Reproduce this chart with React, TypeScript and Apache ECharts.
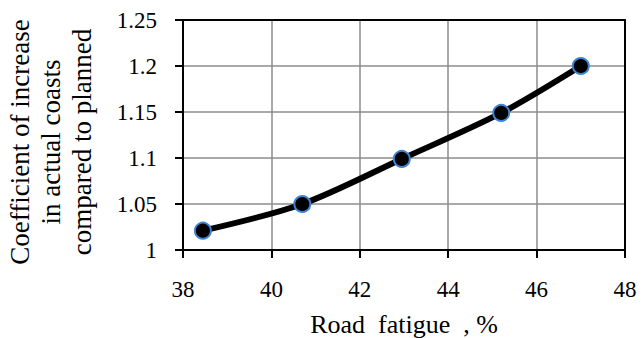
import React, { useEffect, useRef } from "react";
import * as echarts from "echarts";

const roadFatigue = [38.45, 40.7, 42.95, 45.2, 47.0];
const coefficient = [1.021, 1.05, 1.099, 1.149, 1.2];
const xTitle = "Road  fatigue  , %";
const yTitleLines = ["Coefficient of increase", "in actual coasts", "compared to planned"];

const FONT = "Liberation Serif";

export default function App() {
  const ref = useRef<HTMLDivElement>(null);
  useEffect(() => {
    if (!ref.current) return;
    const chart = echarts.init(ref.current, undefined, { renderer: "svg" });
    const data = roadFatigue.map((x, i) => [x, coefficient[i]]);
    chart.setOption({
      animation: false,
      backgroundColor: "#fff",
      grid: { left: 183, right: 18, top: 20, bottom: 88, containLabel: false, outerBoundsMode: "none" },
      xAxis: [
        {
          type: "value",
          min: 38,
          max: 48,
          interval: 2,
          position: "bottom",
          name: xTitle,
          nameLocation: "middle",
          nameGap: 61,
          nameTextStyle: { color: "#000", fontFamily: FONT, fontSize: 26 },
          axisLine: { lineStyle: { color: "#000", width: 2 } },
          axisTick: { show: true, length: 8, lineStyle: { color: "#000", width: 2 } },
          axisLabel: { color: "#000", fontFamily: FONT, fontSize: 23, margin: 28 },
          splitLine: { show: true, lineStyle: { color: "#8c8c8c", width: 1.5 } },
        },
        {
          type: "value",
          min: 38,
          max: 48,
          interval: 2,
          position: "top",
          axisLine: { show: true, lineStyle: { color: "#000", width: 2 } },
          axisTick: { show: false },
          axisLabel: { show: false },
          splitLine: { show: false },
        },
      ],
      yAxis: [
        {
          type: "value",
          min: 1,
          max: 1.25,
          interval: 0.05,
          position: "left",
          axisLine: { show: true, lineStyle: { color: "#000", width: 2 } },
          axisTick: { show: true, length: 8, lineStyle: { color: "#000", width: 2 } },
          axisLabel: { color: "#000", fontFamily: FONT, fontSize: 23, margin: 26 },
          splitLine: { show: true, lineStyle: { color: "#8c8c8c", width: 1.5 } },
        },
        {
          type: "value",
          min: 1,
          max: 1.25,
          interval: 0.05,
          position: "right",
          axisLine: { show: true, lineStyle: { color: "#000", width: 2 } },
          axisTick: { show: false },
          axisLabel: { show: false },
          splitLine: { show: false },
        },
      ],
      graphic: [
        {
          type: "text",
          x: 51,
          y: 142,
          rotation: Math.PI / 2,
          style: {
            text: yTitleLines.join("\n"),
            fill: "#000",
            fontFamily: FONT,
            fontSize: 27,
            lineHeight: 31,
            align: "center",
            verticalAlign: "middle",
          },
        },
      ],
      series: [
        {
          type: "line",
          data,
          smooth: 0.3,
          symbol: "circle",
          symbolSize: 16,
          lineStyle: { color: "#000", width: 6 },
          itemStyle: { color: "#000", borderColor: "#3d85d6", borderWidth: 2 },
          z: 5,
        },
      ],
    });
    return () => chart.dispose();
  }, []);
  return <div ref={ref} style={{ width: 643, height: 338, position: "absolute", left: 0, top: 0 }} />;
}
